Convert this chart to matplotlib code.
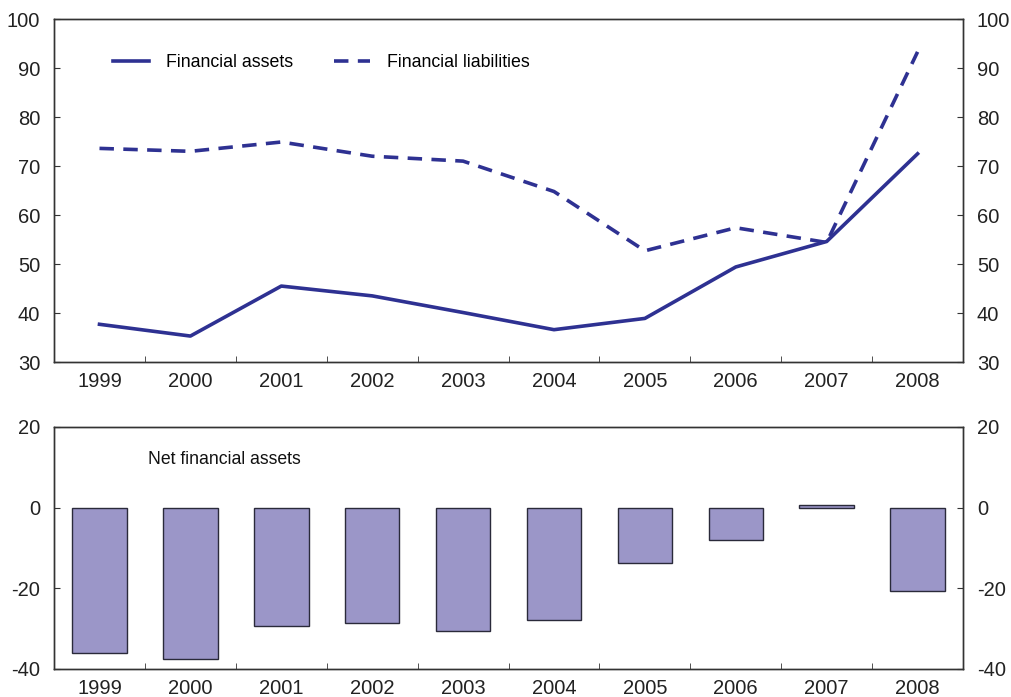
import numpy as np
import matplotlib
matplotlib.use('Agg')
import matplotlib.pyplot as plt

# 数据
years = ['1999', '2000', '2001', '2002', '2003', '2004', '2005', '2006', '2007', '2008']
assets = [37.7, 35.3, 45.5, 43.5, 40.1, 36.6, 38.9, 49.4, 54.6, 72.5]
liabilities = [73.6, 73.0, 74.9, 72.0, 71.0, 64.8, 52.7, 57.4, 54.4, 93.3]
net_assets = [-36.0, -37.5, -29.3, -28.5, -30.7, -27.8, -13.6, -7.9, 0.7, -20.6]

line_col = '#2e3192'
bar_col = '#9b96c8'
axis_col = '#333333'

plt.rcParams['font.family'] = ['Liberation Sans', 'DejaVu Sans']
plt.rcParams['axes.unicode_minus'] = False

fig = plt.figure(figsize=(10.12, 6.97), dpi=100)
ax1 = fig.add_axes([0.0534, 0.4806, 0.8982, 0.4921])
ax2 = fig.add_axes([0.0534, 0.0402, 0.8982, 0.3472])

x = np.arange(len(years))
fs = 14.5


def style(ax, ylim, yticks):
    ax.set_xlim(-0.5, len(years) - 0.5)
    ax.set_ylim(*ylim)
    ax.set_yticks(yticks)
    ax.set_xticks(x)
    ax.set_xticklabels(years)
    ax.set_xticks(np.arange(0.5, len(years) - 0.5), minor=True)
    ax.tick_params(axis='x', which='major', length=0, labelsize=fs, pad=7, colors='#222222')
    ax.tick_params(axis='x', which='minor', direction='in', length=4, color=axis_col)
    ax.tick_params(axis='y', direction='in', length=4, labelsize=fs, color=axis_col,
                   labelcolor='#222222', pad=10)
    for s in ax.spines.values():
        s.set_color(axis_col)
        s.set_linewidth(1.0)
    axr = ax.twinx()
    axr.set_ylim(*ylim)
    axr.set_yticks(yticks)
    axr.tick_params(axis='y', direction='in', length=4, labelsize=fs, color=axis_col,
                    labelcolor='#222222', pad=10)
    for s in axr.spines.values():
        s.set_color(axis_col)
        s.set_linewidth(1.0)
    return axr


# 上图：资产与负债
style(ax1, (30, 100), np.arange(30, 101, 10))
ax1.plot(x, assets, color=line_col, linewidth=2.6, label='Financial assets')
ax1.plot(x, liabilities, color=line_col, linewidth=2.6, dashes=(4, 2.6),
         label='Financial liabilities')
ax1.legend(loc='center left', bbox_to_anchor=(0.065, 0.874), ncol=2, frameon=False,
           fontsize=12.8, handlelength=2.0, columnspacing=2.35, handletextpad=0.95,
           borderpad=0, borderaxespad=0)

# 下图：净金融资产
style(ax2, (-40, 20), [-40, -20, 0, 20])
ax2.bar(x, net_assets, width=0.6, color=bar_col, edgecolor='#2a2a3a', linewidth=1.0)
ax2.text(0.103, 0.864, 'Net financial assets', transform=ax2.transAxes, fontsize=12.7,
         va='center', ha='left', color='#111111')

fig.savefig('out.png', dpi=100)
